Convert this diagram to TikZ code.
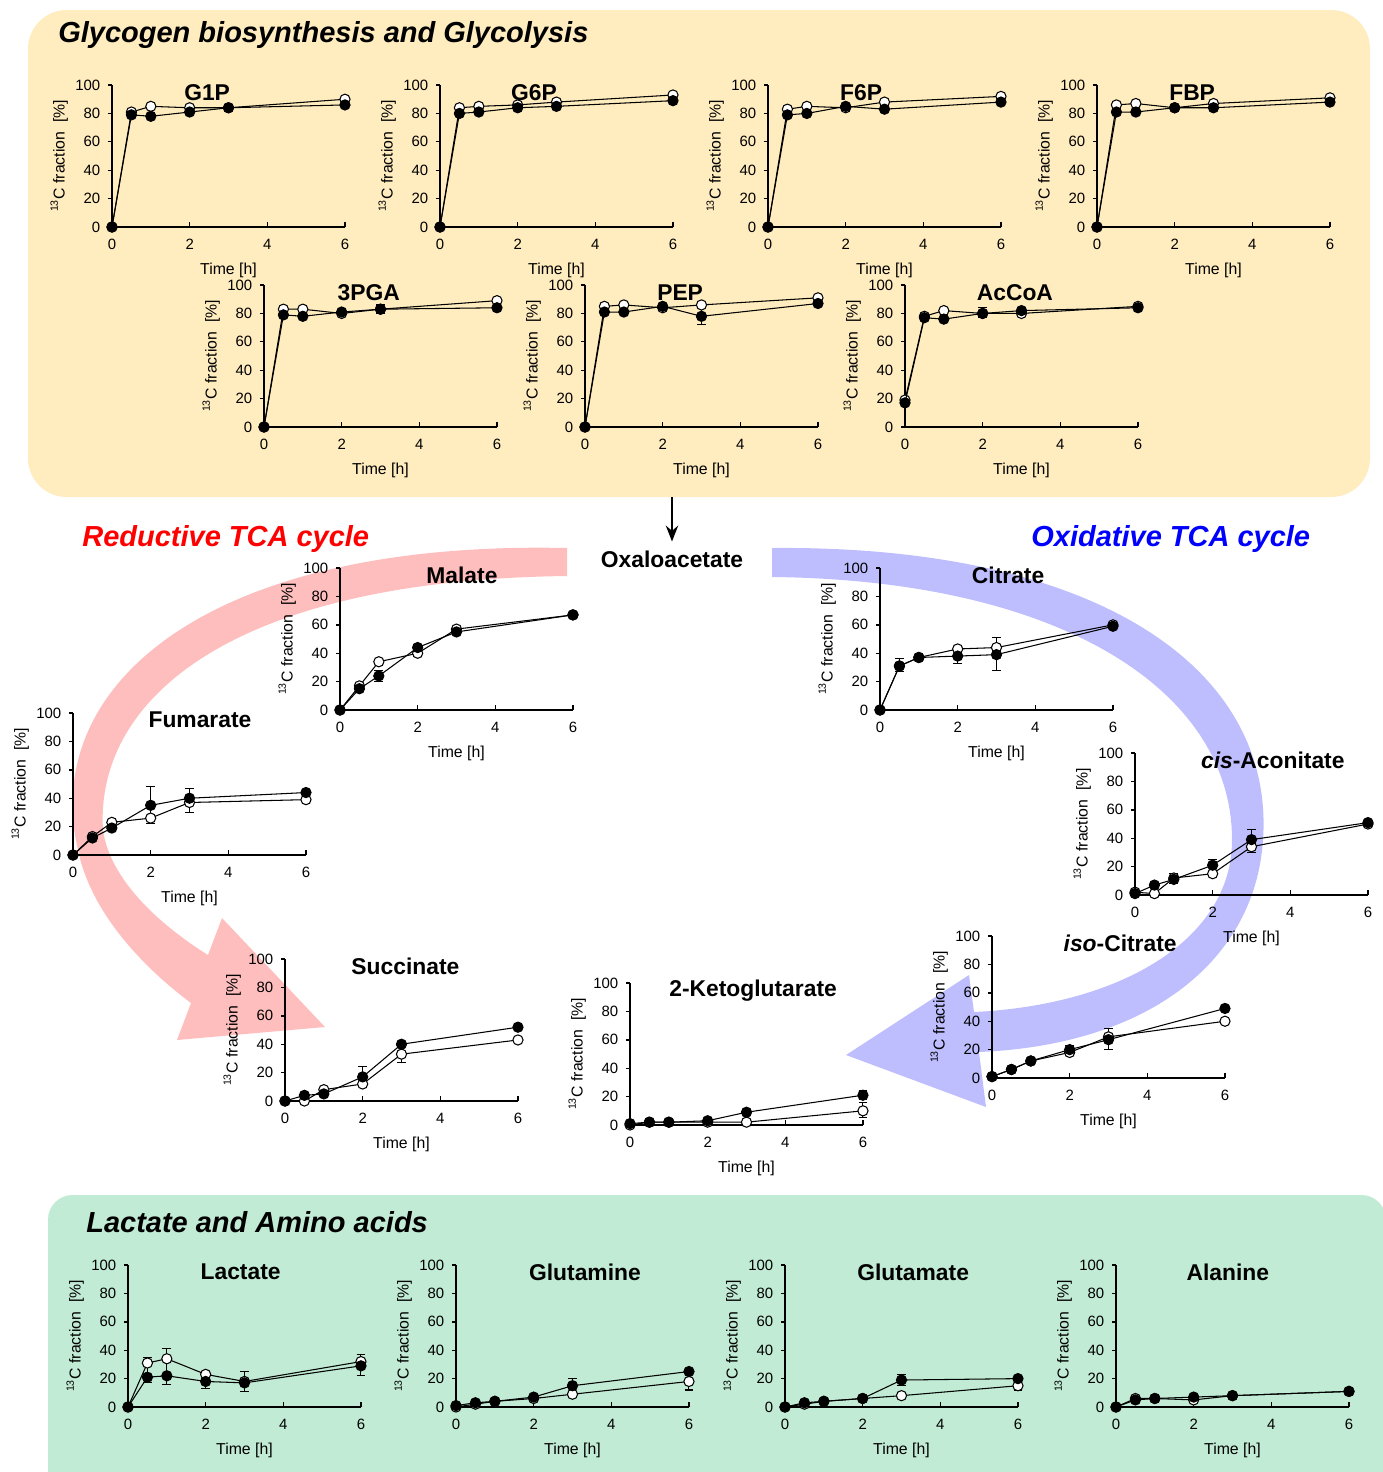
\documentclass[tikz,border=0pt]{standalone}
\usepackage{fontspec}
\setmainfont{Liberation Sans}
\usetikzlibrary{arrows.meta}

\definecolor{glyfill}{RGB}{255,237,192}
\definecolor{aafill}{RGB}{193,235,212}
\definecolor{redflow}{RGB}{255,190,190}
\definecolor{blueflow}{RGB}{190,190,255}

% one labelling time course: id, axis x, axis y, title, title x [h], open points, filled points, error bars
\newcommand{\tcplot}[8]{%
  \begin{scope}[shift={(#2,#3)}, x=0.7767cm, y=0.0284cm]
    % axes
    \draw[axisline] (0,100) -- (0,0) -- (6,0);
    \foreach \v in {0,20,...,100} {
      \draw[axisline] (0,\v) -- ++(-2.5pt,0);
      \node[ticklab, anchor=east] (#1-y\v) at ([xshift=-6.5pt]0,\v) {\v};
    }
    \foreach \t in {2,4,6} \draw[axisline] (\t,0) -- ++(0,3pt);
    \foreach \t in {0,2,4,6}
      \node[ticklab, anchor=north] (#1-x\t) at ([yshift=-6.5pt]\t,0) {\t};
    \node[axlab] (#1-xlab) at ([yshift=-24.5pt]3,0) {Time [h]};
    \node[axlab, rotate=90] (#1-ylab) at ([xshift=-30pt]0,50) {\textsuperscript{13}C fraction\ \ [\%]};
    \node[plottitle] (#1-title) at (#5,95) {#4};
    % data
    \foreach \ex/\elo/\ehi in {#8}
      \draw[errbar] (\ex,\elo) -- (\ex,\ehi)
        (\ex,\elo) ++(-2.5pt,0) -- ++(5pt,0)
        (\ex,\ehi) ++(-2.5pt,0) -- ++(5pt,0);
    \draw[series, mark=*, mark options={fill=white}] plot coordinates {#6};
    \draw[series, mark=*, mark options={fill=black}] plot coordinates {#7};
  \end{scope}}

\begin{document}
\begin{tikzpicture}[x=0.02cm, y=-0.02cm,
    ticklab/.style={font=\fontsize{8.5}{10}\selectfont, inner sep=0pt},
    axlab/.style={font=\fontsize{9}{10}\selectfont, inner sep=0pt},
    plottitle/.style={font=\fontsize{13}{15}\selectfont\bfseries, inner sep=0pt},
    section/.style={font=\fontsize{16.5}{20}\selectfont\bfseries\itshape, inner sep=0pt, anchor=west},
    axisline/.style={line width=0.75pt},
    series/.style={line width=0.6pt, mark size=2.9pt},
    errbar/.style={line width=0.6pt}]
  \useasboundingbox (0,0) rectangle (1383,1472);

  % panels
  \fill[glyfill, rounded corners=22pt] (28,10) rectangle (1370,497);
  \fill[aafill, rounded corners=14pt] (48,1195) rectangle (1386,1495);

  % reductive branch
  \fill[redflow] (567,548) .. controls (200,540) and (40,690) .. (78,850)
    .. controls (90,910) and (140,965) .. (191,1003) -- (177,1040) -- (325,1027) -- (222,918) -- (208,955)
    .. controls (160,925) and (110,880) .. (103,830)
    .. controls (95,700) and (230,580) .. (567,576) -- cycle;
  % oxidative branch
  \fill[blueflow] (772,548) .. controls (1100,545) and (1275,670) .. (1263,840)
    .. controls (1255,960) and (1150,1045) .. (979,1052) -- (986,1107) -- (846,1055) -- (969,975) -- (974,1012)
    .. controls (1120,1005) and (1232,940) .. (1232,840)
    .. controls (1232,690) and (1060,580) .. (772,577) -- cycle;

  % headings
  \node[section] (glytitle) at (58,35) {Glycogen biosynthesis and Glycolysis};
  \node[section, text=red] (redtitle) at (82,539) {Reductive TCA cycle};
  \node[section, text=blue] (bluetitle) at (1031,539) {Oxidative TCA cycle};
  \node[section] (aatitle) at (86,1222) {Lactate and Amino acids};

  \node[plottitle] (oaa) at (672,559) {Oxaloacetate};
  \coordinate (glyout) at (672,497);
  \draw[line width=1.2pt, shorten >=5pt, -{Stealth[length=9pt, width=7pt]}] (glyout) -- (oaa.north);

  % glycogen and glycolysis
  \tcplot{g1p}{112}{227}{G1P}{2.45}{(0,0) (0.5,81) (1,85) (2,84) (3,84) (6,90)}{(0,0) (0.5,79) (1,78) (2,81) (3,84) (6,86)}{0.5/78/82}
  \tcplot{g6p}{440}{227}{G6P}{2.42}{(0,0) (0.5,84) (1,85) (2,86) (3,88) (6,93)}{(0,0) (0.5,80) (1,81) (2,84) (3,85) (6,89)}{3/84/89}
  \tcplot{f6p}{768}{227}{F6P}{2.4}{(0,0) (0.5,83) (1,85) (2,84) (3,88) (6,92)}{(0,0) (0.5,79) (1,80) (2,85) (3,83) (6,88)}{2/83/86}
  \tcplot{fbp}{1097}{227}{FBP}{2.45}{(0,0) (0.5,86) (1,87) (2,84) (3,87) (6,91)}{(0,0) (0.5,81) (1,81) (2,84) (3,84) (6,88)}{3/83/88}
  \tcplot{pga}{264}{427}{3PGA}{2.7}{(0,0) (0.5,83) (1,83) (2,80) (3,83) (6,89)}{(0,0) (0.5,79) (1,78) (2,81) (3,83) (6,84)}{3/80/86}
  \tcplot{pep}{585}{427}{PEP}{2.45}{(0,0) (0.5,85) (1,86) (2,84) (3,86) (6,91)}{(0,0) (0.5,81) (1,81) (2,85) (3,78) (6,87)}{3/72/84}
  \tcplot{accoa}{905}{427}{AcCoA}{2.83}{(0,19) (0.5,78) (1,82) (2,80) (3,80) (6,85)}{(0,17) (0.5,77) (1,76) (2,80) (3,82) (6,84)}{2/77/84}

  % TCA cycle
  \tcplot{mal}{340}{710}{Malate}{3.14}{(0,0) (0.5,17) (1,34) (2,40) (3,57) (6,67)}{(0,0) (0.5,15) (1,24) (2,44) (3,55) (6,67)}{1/20/28, 2/38/46}
  \tcplot{cit}{880}{710}{Citrate}{3.3}{(0,0) (0.5,31) (1,37) (2,43) (3,44) (6,60)}{(0,0) (0.5,31) (1,37) (2,38) (3,39) (6,59)}{0.5/27/36, 2/33/45, 3/28/51}
  \tcplot{fum}{73}{855}{Fumarate}{3.27}{(0,0) (0.5,13) (1,23) (2,26) (3,37) (6,39)}{(0,0) (0.5,12) (1,19) (2,35) (3,40) (6,44)}{2/22/48, 3/30/47}
  \tcplot{cac}{1135}{895}{\textit{cis}-Aconitate}{3.55}{(0,2) (0.5,1) (1,12) (2,15) (3,34) (6,50)}{(0,1) (0.5,7) (1,11) (2,21) (3,39) (6,51)}{1/8/15, 2/16/25, 3/30/46}
  \tcplot{icit}{992}{1078}{\textit{iso}-Citrate}{3.3}{(0,1) (0.5,6) (1,12) (2,18) (3,29) (6,40)}{(0,1) (0.5,6) (1,12) (2,20) (3,27) (6,49)}{2/16/23, 3/20/35}
  \tcplot{suc}{285}{1101}{Succinate}{3.1}{(0,0) (0.5,0) (1,8) (2,12) (3,33) (6,43)}{(0,0) (0.5,4) (1,5) (2,17) (3,40) (6,52)}{2/12/24, 3/27/40}
  \tcplot{akg}{630}{1125}{2-Ketoglutarate}{3.17}{(0,0) (0.5,2) (1,2) (2,2) (3,2) (6,10)}{(0,1) (0.5,2) (1,2) (2,3) (3,9) (6,21)}{6/5/16, 6/18/24}

  % lactate and amino acids
  \tcplot{lac}{128}{1407}{Lactate}{2.9}{(0,0) (0.5,31) (1,34) (2,23) (3,18) (6,32)}{(0,0) (0.5,21) (1,22) (2,18) (3,17) (6,29)}{0.5/17/35, 1/16/41, 2/13/24, 3/11/25, 6/22/37}
  \tcplot{gln}{456}{1407}{Glutamine}{3.32}{(0,0) (0.5,2) (1,4) (2,6) (3,9) (6,18)}{(0,1) (0.5,3) (1,4) (2,7) (3,15) (6,25)}{3/11/20, 6/12/20}
  \tcplot{glu}{785}{1407}{Glutamate}{3.3}{(0,0) (0.5,2) (1,4) (2,6) (3,8) (6,15)}{(0,0) (0.5,3) (1,4) (2,6) (3,19) (6,20)}{3/15/23, 6/12/15}
  \tcplot{ala}{1116}{1407}{Alanine}{2.88}{(0,0) (0.5,6) (1,6) (2,5) (3,8) (6,11)}{(0,0) (0.5,5) (1,6) (2,7) (3,8) (6,11)}{2/4/9}
\end{tikzpicture}
\end{document}
